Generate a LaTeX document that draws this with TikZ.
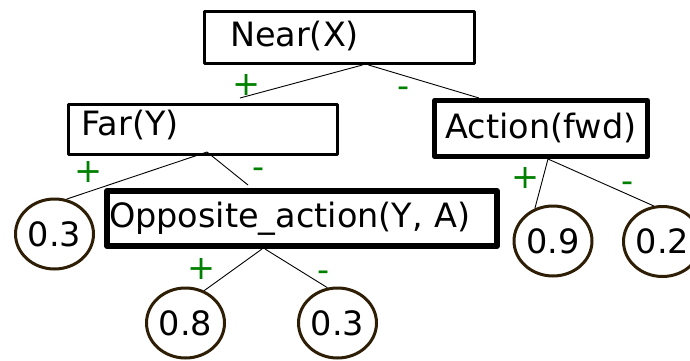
\documentclass[tikz,border=0pt]{standalone}
\usepackage{fontspec}
\setmainfont{DejaVu Sans}
\usetikzlibrary{shapes.geometric}

\definecolor{leafbrown}{RGB}{45,30,5}
\definecolor{signgreen}{RGB}{0,128,0}

\tikzset{
  box/.style={draw, rectangle, line join=round, inner ysep=0pt, text height=25pt, text depth=8pt, align=left},
  leaf/.style={draw=leafbrown, ellipse, line width=3pt, minimum width=78pt, minimum height=70pt, inner sep=0pt},
  branch/.style={line width=0.9pt},
  sgn/.style={text=signgreen, inner sep=0pt},
}

\begin{document}
\begin{tikzpicture}[x=1pt,y=-1pt,font=\fontsize{33.5}{40}\selectfont]
\useasboundingbox (0,0) rectangle (690,361);
\clip (0,0) rectangle (690,361);

% tests
\node[box, line width=3pt, minimum height=52pt, inner xsep=25.5pt, text width=219pt] (near) at (339.5,37.5) {Near(X)};
\node[box, line width=3pt, minimum height=50pt, inner xsep=13pt, text width=243pt, text depth=14pt] (far) at (203,129.5) {Far(Y)};
\node[box, line width=5pt, minimum height=56pt, minimum width=213pt, align=center, text depth=5.5pt] (action) at (541,128.5) {Action(fwd)};
\node[box, line width=6pt, minimum height=55pt, inner xsep=2pt, text width=386pt] (opp) at (302,218.5) {Opposite\_action(Y, A)};

% leaves
\node[leaf] (p03a) at (54.5,234) {0.3};
\node[leaf] (p09) at (553,241) {0.9};
\node[leaf] (p02) at (662.5,241.5) {0.2};
\node[leaf] (p08) at (185.5,323) {0.8};
\node[leaf] (p03b) at (337.5,323) {0.3};

% branches
\draw[branch] ([xshift=23pt]near.south) -- ([xshift=37pt,yshift=5pt]far.north);
\draw[branch] ([xshift=29pt]near.south) -- ([xshift=-62pt]action.north);
\draw[branch] ([xshift=4pt,yshift=4pt]far.south) -- (p03a.71);
\draw[branch] ([xshift=4pt,yshift=4pt]far.south) -- ([xshift=-54pt,yshift=3pt]opp.north);
\draw[branch] ([xshift=7pt]action.south) -- (p09.119);
\draw[branch] ([xshift=7pt]action.south) -- (p02.104);
\draw[branch] ([xshift=-40pt]opp.south) -- (p08.60);
\draw[branch] ([xshift=-37pt]opp.south) -- (p03b.106);

% signs
\node[sgn] (nearplus) at (247,85) {+};
\node[sgn] (nearminus) at (404,92) {-};
\node[sgn] (farplus) at (89,172) {+};
\node[sgn] (farminus) at (259,173) {-};
\node[sgn] (actplus) at (526,178) {+};
\node[sgn] (actminus) at (628,187) {-};
\node[sgn] (oppplus) at (202,269) {+};
\node[sgn] (oppminus) at (324,276) {-};
\end{tikzpicture}
\end{document}
